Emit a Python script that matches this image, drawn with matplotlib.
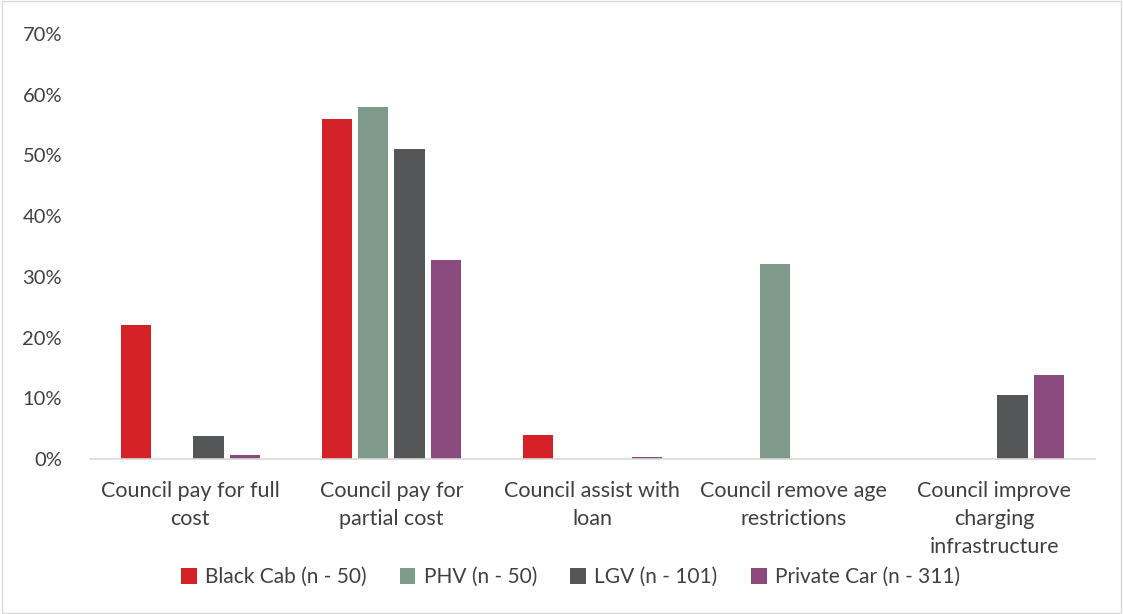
import matplotlib
matplotlib.use("Agg")
import matplotlib.pyplot as plt
import numpy as np

categories = ["Council pay for full\ncost", "Council pay for\npartial cost", "Council assist with\nloan",
              "Council remove age\nrestrictions", "Council improve\ncharging\ninfrastructure"]
series_names = ["Black Cab (n - 50)", "PHV (n - 50)", "LGV (n - 101)", "Private Car (n - 311)"]
black_cab = [22, 56, 4, 0, 0]
phv = [0, 58, 0, 32.2, 0]
lgv = [3.8, 51, 0, 0, 10.6]
private_car = [0.6, 32.8, 0.3, 0, 13.8]
colors = ["#D42128", "#7F9A8A", "#555657", "#8B4A7E"]
yticks = [0, 10, 20, 30, 40, 50, 60, 70]

plt.rcParams['font.family'] = ['Lato', 'DejaVu Sans']

fig = plt.figure(figsize=(11.23, 6.14), dpi=100)
ax = fig.add_axes([0.080, 0.2524, 0.895, 0.6922])

x = np.arange(len(categories))
step = 0.18
width = 0.15
for i, (vals, name, c) in enumerate(zip([black_cab, phv, lgv, private_car], series_names, colors)):
    ax.bar(x + (i - 1.5) * step, vals, width, color=c, label=name, edgecolor='none')

ax.set_xlim(-0.5, 4.5)
ax.set_ylim(0, 70)
ax.set_yticks(yticks)
ax.set_yticklabels([f"{t}%" for t in yticks], fontsize=14.5, color='#404040')
ax.set_xticks(x)
ax.set_xticklabels(categories, fontsize=15.5, color='#404040', linespacing=1.5)
ax.tick_params(axis='x', length=0, pad=16)
ax.tick_params(axis='y', length=0, pad=20)
for s in ['top', 'right', 'left']:
    ax.spines[s].set_visible(False)
ax.spines['bottom'].set_color('#D9D9D9')
ax.spines['bottom'].set_linewidth(1.2)

leg = fig.legend(loc='center', bbox_to_anchor=(0.508, 0.06), ncol=4, frameon=False,
                 fontsize=15, handlelength=0.75, handleheight=0.75, columnspacing=1.6, handletextpad=0.4)
for t in leg.get_texts():
    t.set_color('#404040')

border = plt.Rectangle((0.002, 0.002), 0.996, 0.996, transform=fig.transFigure, fill=False,
                       edgecolor='#D9D9D9', linewidth=1)
fig.patches.append(border)

fig.savefig("out.png", dpi=100)
